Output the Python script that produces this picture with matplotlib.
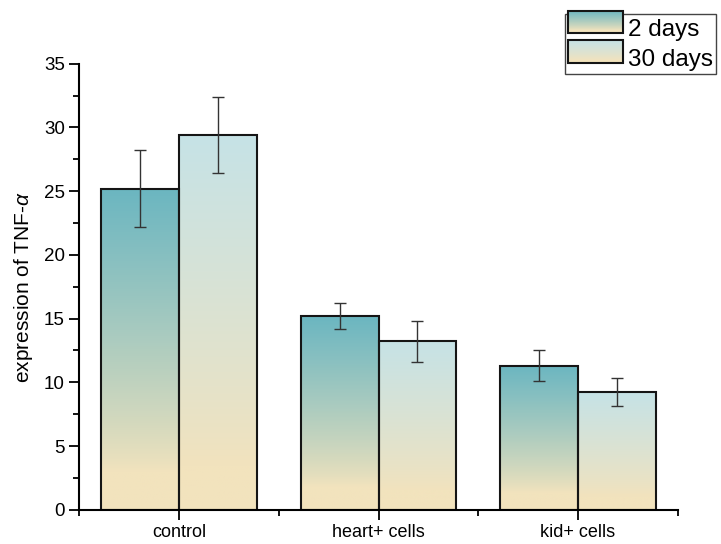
import numpy as np
import matplotlib
matplotlib.use("Agg")
import matplotlib.pyplot as plt
from matplotlib.colors import to_rgb
from matplotlib.patches import Rectangle
from matplotlib.legend_handler import HandlerBase
from matplotlib.image import BboxImage
from matplotlib.transforms import Bbox, TransformedBbox

plt.rcParams['font.family'] = ['Liberation Sans', 'DejaVu Sans']
plt.rcParams['mathtext.fontset'] = 'custom'
plt.rcParams['mathtext.it'] = 'Liberation Sans:italic'

# data
categories = ['control', 'heart+ cells', 'kid+ cells']
series = ['2 days', '30 days']
day2 = [25.2, 15.2, 11.3]
day2_err = [3.0, 1.0, 1.2]
day30 = [29.4, 13.2, 9.25]
day30_err = [3.0, 1.6, 1.1]

top_colors = ['#6bb6c1', '#c6e2e6']
bottom_color = '#f2e3bd'


def grad_image(top):
    f = np.linspace(0, 1, 200)
    t = np.clip((f - 0.12) / 0.88, 0, 1) ** 0.85
    a = np.array(to_rgb(bottom_color))
    b = np.array(to_rgb(top))
    img = a[None, :] * (1 - t[:, None]) + b[None, :] * t[:, None]
    return img[:, None, :]


fig = plt.figure(figsize=(7.21, 5.44), dpi=100)
ax = fig.add_axes([0.11, 0.063, 0.83, 0.82])

x = np.arange(len(categories))
w = 0.39
for vals, errs, top, off in [(day2, day2_err, top_colors[0], -w / 2),
                             (day30, day30_err, top_colors[1], w / 2)]:
    img = grad_image(top)
    for xi, v, e in zip(x, vals, errs):
        l = xi + off - w / 2
        ax.imshow(img, extent=[l, l + w, 0, v], origin='lower',
                  aspect='auto', zorder=1, interpolation='bilinear')
        ax.add_patch(Rectangle((l, 0), w, v, fill=False, ec='#151515',
                               lw=1.5, zorder=2))
        ax.errorbar(xi + off, v, yerr=e, fmt='none', ecolor='#333333',
                    elinewidth=1, capsize=4, capthick=1, zorder=3)

ax.set_xlim(-0.5, 2.5)
ax.set_ylim(0, 35)
ax.set_xticks(x)
ax.set_xticklabels(categories, fontsize=13)
ax.set_xticks([-0.5, 0.5, 1.5, 2.5], minor=True)
ax.set_yticks(np.arange(0, 36, 5))
ax.set_yticks(np.arange(2.5, 35, 5), minor=True)
ax.tick_params(axis='y', labelsize=13.5)
ax.tick_params(which='major', length=7, width=1.3)
ax.tick_params(which='minor', length=4, width=1.3)
ax.set_ylabel(r'expression of TNF-$\it{\alpha}$', fontsize=15, labelpad=6)
for s in ['top', 'right']:
    ax.spines[s].set_visible(False)
for s in ['left', 'bottom']:
    ax.spines[s].set_linewidth(1.5)


class GradHandler(HandlerBase):
    def __init__(self, top):
        super().__init__()
        self.top = top

    def create_artists(self, legend, orig, xd, yd, width, height, fontsize, trans):
        bb = Bbox.from_bounds(xd, yd, width, height)
        im = BboxImage(TransformedBbox(bb, trans), interpolation='bilinear')
        im.set_data(grad_image(self.top)[::-1])
        r = Rectangle((xd, yd), width, height, fill=False, ec='#151515',
                      lw=1.5, transform=trans)
        return [im, r]


h1 = Rectangle((0, 0), 1, 1)
h2 = Rectangle((0, 0), 1, 1)
leg = fig.legend([h1, h2], series, loc='upper left',
                 bbox_to_anchor=(0.784, 0.975), fontsize=17.5,
                 handler_map={h1: GradHandler(top_colors[0]),
                              h2: GradHandler(top_colors[1])},
                 fancybox=False, edgecolor='#444444', framealpha=1,
                 handlelength=2.25, handleheight=1.05, handletextpad=0.2,
                 labelspacing=0.22, borderpad=0.12, borderaxespad=0)
leg.get_frame().set_linewidth(1)

fig.savefig('out.png', dpi=100)
